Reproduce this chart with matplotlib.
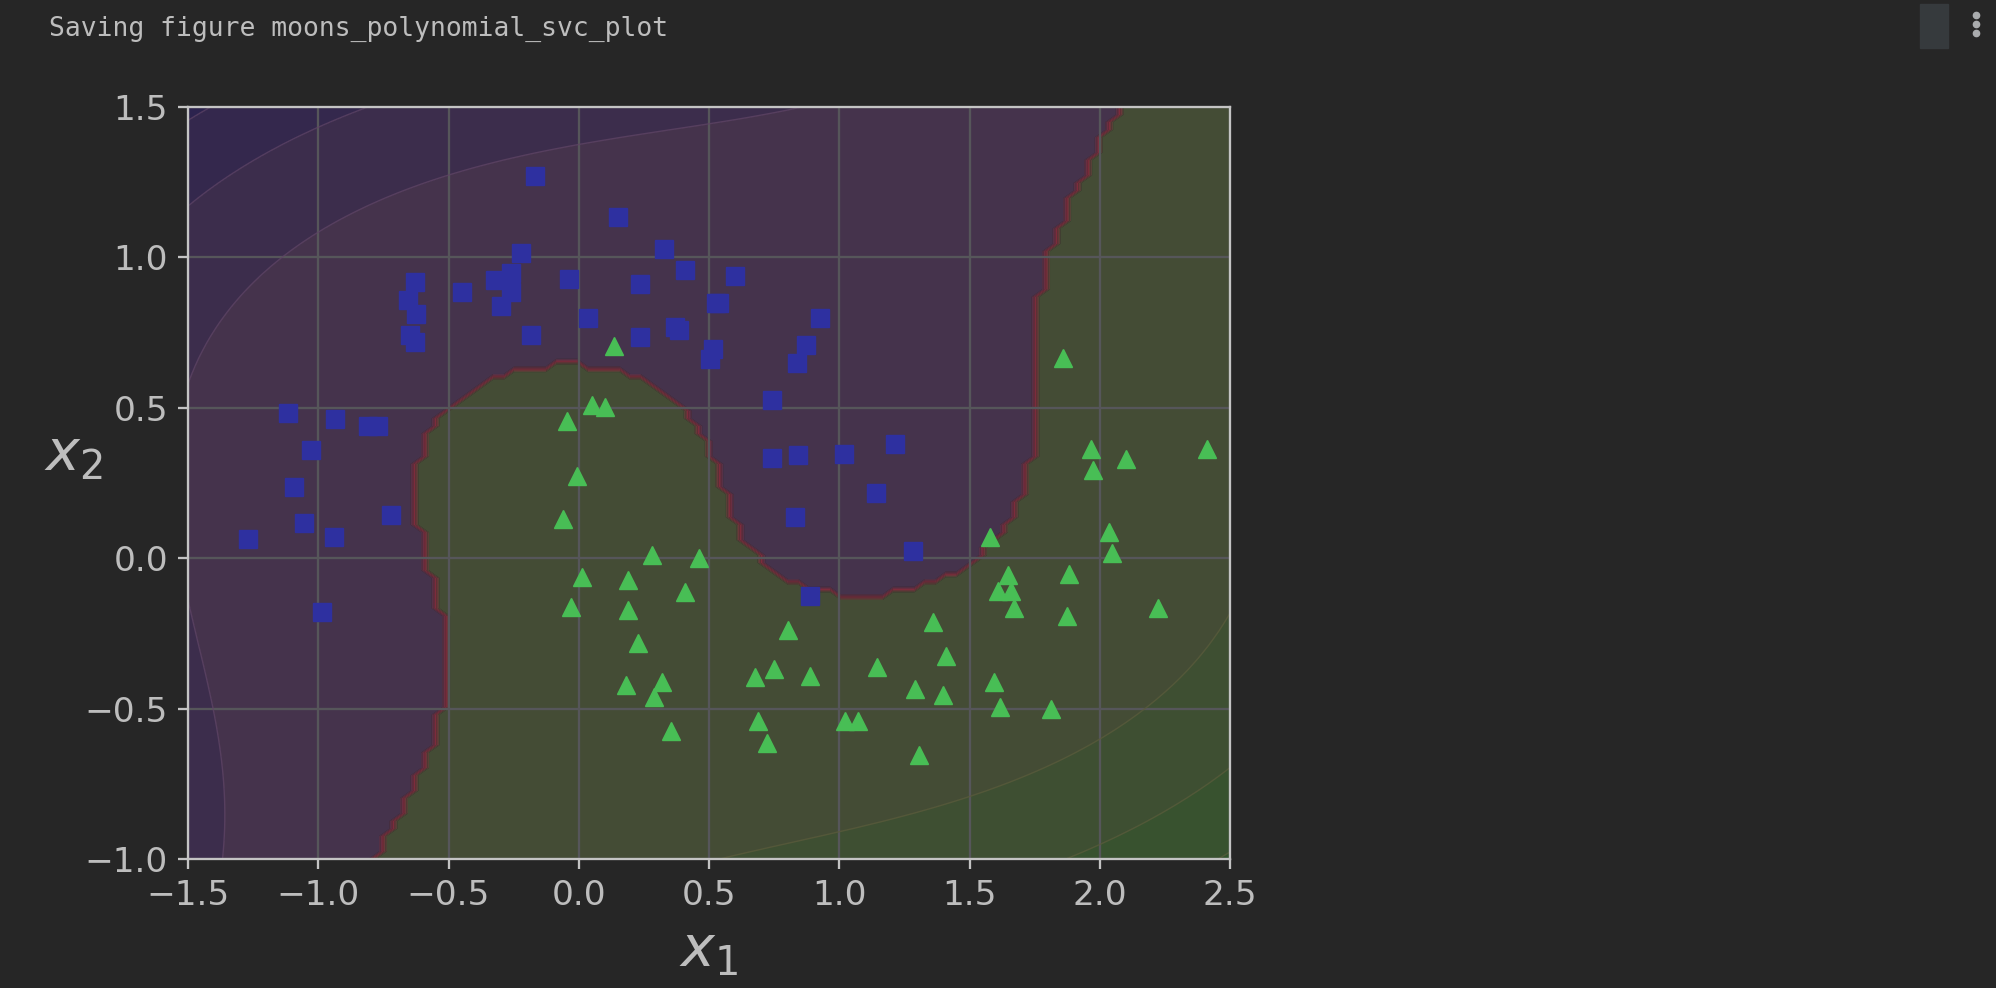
import numpy as np
import matplotlib

matplotlib.use("Agg")
import matplotlib.pyplot as plt
from matplotlib import ticker
from matplotlib.colors import LinearSegmentedColormap, to_rgb
from matplotlib.lines import Line2D
from matplotlib.patches import Rectangle

# moons data (class 0 = blue squares, class 1 = green triangles)
blue_x = [-0.167, 0.151, -0.220, 0.326, 0.409, -0.259, -0.320, -0.039, 0.234, -0.630,
          -0.448, -0.259, -0.655, -0.297, -0.624, 0.036, 0.370, 0.384, -0.649, -0.630,
          -0.182, 0.234, -1.116, -0.934, -0.809, -0.771, -1.027, -1.093, -0.722, -1.055,
          -1.270, -0.941, -0.986, 0.600, 0.525, 0.540, 0.925, 0.515, 0.502, 0.873,
          0.836, 0.743, 0.743, 0.842, 1.017, 1.215, 1.140, 0.829, 1.282, 0.888]
blue_y = [1.271, 1.134, 1.016, 1.029, 0.957, 0.949, 0.924, 0.929, 0.913, 0.918,
          0.885, 0.885, 0.859, 0.838, 0.813, 0.800, 0.770, 0.760, 0.741, 0.719,
          0.741, 0.735, 0.484, 0.464, 0.438, 0.438, 0.359, 0.236, 0.144, 0.118,
          0.064, 0.069, -0.180, 0.937, 0.848, 0.848, 0.800, 0.697, 0.663, 0.708,
          0.649, 0.525, 0.334, 0.342, 0.347, 0.381, 0.216, 0.138, 0.025, -0.126]
green_x = [0.135, 0.051, 0.100, -0.046, -0.008, 1.860, 1.966, 2.102, 1.973, 2.412,
           -0.060, 0.281, 0.462, 0.014, 0.189, 0.409, -0.031, 0.189, 0.227, 0.180,
           0.320, 0.288, 0.355, 1.578, 2.034, 2.048, 1.646, 1.609, 1.661, 1.669,
           1.882, 1.875, 2.224, 1.358, 0.805, 1.411, 1.146, 0.677, 0.751, 0.888,
           1.290, 1.398, 1.593, 1.616, 1.814, 0.690, 0.721, 1.023, 1.071, 1.305]
green_y = [0.704, 0.508, 0.503, 0.455, 0.273, 0.667, 0.364, 0.331, 0.292, 0.364,
           0.129, 0.010, 0.000, -0.061, -0.072, -0.113, -0.161, -0.172, -0.283, -0.422,
           -0.413, -0.462, -0.573, 0.069, 0.088, 0.016, -0.056, -0.108, -0.108, -0.167,
           -0.054, -0.192, -0.167, -0.211, -0.239, -0.324, -0.363, -0.396, -0.369, -0.391,
           -0.436, -0.455, -0.411, -0.496, -0.502, -0.540, -0.613, -0.540, -0.540, -0.654]

AXES = [-1.5, 2.5, -1.0, 1.5]
K = 2.06  # the notebook picture is scaled up about 2x

BG = "#262626"
TXT = "#bdbdbd"
SPINE = "#c4c4c4"
PURPLE = "#45334c"
RED = "#7d2c3c"
OLIVE = "#444c35"


def poly3(a, b):
    # PolynomialFeatures(degree=3) column order
    return np.column_stack([np.ones_like(a), a, b, a * a, a * b, b * b,
                            a ** 3, a * a * b, a * b * b, b ** 3])


def fit_poly_svc(X, y, C=10.0, epochs=6000, tol=1e-6):
    """polinom(3) + StandardScaler + LinearSVC(hinge), dual coordinate descent."""
    P = poly3(X[:, 0], X[:, 1])
    mu = P.mean(axis=0)
    sd = P.std(axis=0)
    sd[sd == 0] = 1.0
    Z = np.column_stack([(P - mu) / sd, np.ones(len(P))])
    t = np.where(y == 1, 1.0, -1.0)
    n, d = Z.shape
    alpha = np.zeros(n)
    w = np.zeros(d)
    qd = (Z ** 2).sum(axis=1)
    rows = [Z[i] * t[i] for i in range(n)]
    for _ in range(epochs):
        pmax, pmin = -np.inf, np.inf
        for i in range(n):
            zi = rows[i]
            g = zi @ w - 1.0
            a = alpha[i]
            if a == 0.0:
                pg = min(g, 0.0)
            elif a == C:
                pg = max(g, 0.0)
            else:
                pg = g
            pmax = max(pmax, pg)
            pmin = min(pmin, pg)
            if pg != 0.0:
                na = min(max(a - g / qd[i], 0.0), C)
                w += (na - a) * zi
                alpha[i] = na
        if pmax - pmin < tol:
            break

    def decision(a, b):
        Q = (poly3(a, b) - mu) / sd
        return Q @ w[:-1] + w[-1]

    return decision


X = np.column_stack([np.r_[blue_x, green_x], np.r_[blue_y, green_y]])
y = np.r_[np.zeros(len(blue_x)), np.ones(len(green_x))]
decision = fit_poly_svc(X, y)

plt.rcParams["font.family"] = ["DejaVu Sans"]
fig = plt.figure(figsize=(19.96, 9.88), dpi=100, facecolor=BG)
ax = fig.add_axes([188 / 1996, 1 - 859 / 988, (1230 - 188) / 1996, (859 - 107) / 988])
ax.set_facecolor(BG)

x0s = np.linspace(AXES[0], AXES[1], 100)
x1s = np.linspace(AXES[2], AXES[3], 100)
x0, x1 = np.meshgrid(x0s, x1s)
y_dec = decision(x0.ravel(), x1.ravel()).reshape(x0.shape)
y_pred = (y_dec > 0).astype(float)

# predicted classes (staircase border gets the reddish middle colours)
pred_cmap = LinearSegmentedColormap.from_list("pred", [PURPLE, RED, OLIVE])
pred_levels = ticker.MaxNLocator(8).tick_values(0, 1)
nb = len(pred_levels) - 1
ax.contourf(x0, x1, y_pred, levels=pred_levels,
            colors=[pred_cmap(i / (nb - 1)) for i in range(nb)], antialiased=True)

# decision function bands
dec_levels = ticker.MaxNLocator(8).tick_values(y_dec.min(), y_dec.max())
step = dec_levels[1] - dec_levels[0]
band_cols = []
for lo, hi in zip(dec_levels[:-1], dec_levels[1:]):
    if hi <= 0:
        k = int(round(-hi / step))
        band_cols.append(to_rgb("#141450") + (min(0.17 * k, 0.6),))
    else:
        k = int(round(lo / step))
        band_cols.append(to_rgb("#2a5a28") + (min(0.22 * k, 0.7),))
ax.contourf(x0, x1, y_dec, levels=dec_levels, colors=band_cols)

# faint seams between the bands
edge_levels = [v for v in dec_levels if v != 0 and y_dec.min() < v < y_dec.max()]
edge_cols = ["#5e4464" if v < 0 else "#5a5a3c" for v in edge_levels]
ax.contour(x0, x1, y_dec, levels=edge_levels, colors=edge_cols, linewidths=1.0, alpha=0.8)

ax.plot(blue_x, blue_y, "s", color="#2e30a0", markersize=6 * K)
ax.plot(green_x, green_y, "^", color="#48be55", markersize=6 * K)

ax.axis(AXES)
ax.xaxis.set_major_locator(ticker.MultipleLocator(0.5))
ax.yaxis.set_major_locator(ticker.MultipleLocator(0.5))
ax.grid(True, which="both", color="#56565a", linewidth=0.8 * K)
for s in ax.spines.values():
    s.set_color(SPINE)
    s.set_linewidth(0.8 * K)
ax.tick_params(colors=SPINE, labelcolor=TXT, labelsize=12 * K,
               length=3.5 * K, width=0.8 * K, pad=3.5 * K)
ax.set_xlabel(r"$x_1$", fontsize=20 * K, color=TXT, labelpad=4 * K)
ax.set_ylabel(r"$x_2$", fontsize=20 * K, color=TXT, rotation=0, labelpad=4 * K)

# notebook output line and the little toolbar on the right
fig.text(49 / 1996, 1 - 36 / 988, "Saving figure moons_polynomial_svc_plot",
         family="DejaVu Sans Mono", fontsize=19, color=TXT, va="baseline")
fig.patches.append(Rectangle((1920 / 1996, 1 - 48 / 988), 28 / 1996, 44 / 988,
                             transform=fig.transFigure, color="#363a3d"))
fig.add_artist(Line2D([1976 / 1996] * 3, [1 - 15 / 988, 1 - 24 / 988, 1 - 33 / 988],
                      transform=fig.transFigure, linestyle="none", marker="o",
                      markersize=4.5, color="#a9abad"))

fig.savefig("out.png", dpi=100, facecolor=BG)
